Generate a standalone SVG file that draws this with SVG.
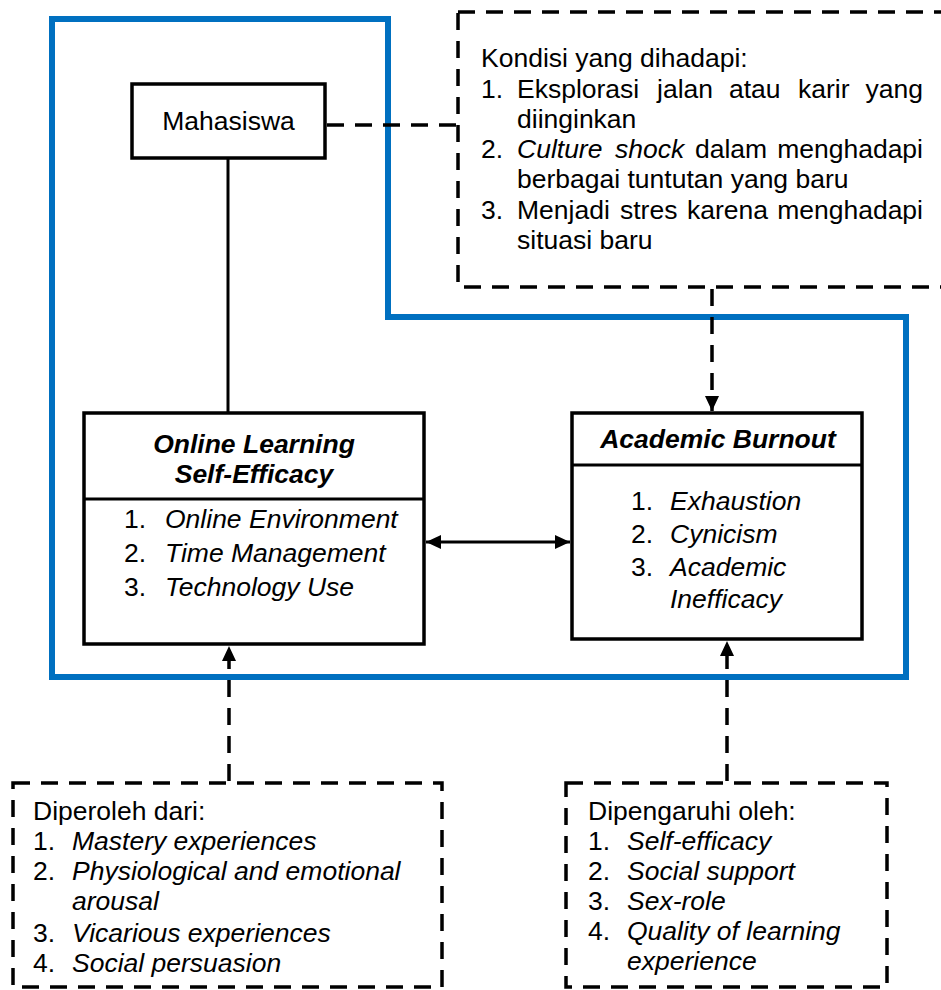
<svg xmlns="http://www.w3.org/2000/svg" width="941" height="990" viewBox="0 0 941 990">
<style>
text{font-family:"Liberation Sans",Arial,sans-serif;font-size:26.5px;fill:#000}
.it{font-style:italic}
.bi{font-style:italic;font-weight:bold}
.box{fill:#fff;stroke:#000;stroke-width:3.5}
.dbox{fill:none;stroke:#000;stroke-width:3.5;stroke-dasharray:17 11}
.solid{stroke:#000;stroke-width:3;fill:none}
.dash{stroke:#000;stroke-width:3.5;fill:none;stroke-dasharray:17 11}
</style>
<defs>
<marker id="ah" markerUnits="userSpaceOnUse" markerWidth="16" markerHeight="14" refX="15" refY="7" orient="auto-start-reverse">
<path d="M0,0 L15,7 L0,14 Z" fill="#000"/>
</marker>
</defs>
<g id="frame">
<path d="M52,19 H388 V317 H906 V677 H52 Z" fill="none" stroke="#0070C0" stroke-width="6"/>
</g>
<g id="connectors">
<line class="solid" x1="228" y1="158" x2="228" y2="412"/>
<line class="dash" x1="327" y1="125" x2="458" y2="125"/>
<line class="solid" x1="426" y1="542" x2="570" y2="542" marker-start="url(#ah)" marker-end="url(#ah)"/>
<line class="dash" x1="712" y1="289" x2="712" y2="411" marker-end="url(#ah)"/>
<line class="dash" x1="229" y1="781" x2="229" y2="646" marker-end="url(#ah)"/>
<line class="dash" x1="727" y1="781" x2="727" y2="641" marker-end="url(#ah)"/>
</g>
<g id="mahasiswa">
<rect class="box" x="132" y="84" width="193" height="74"/>
<text x="228.5" y="130" text-anchor="middle">Mahasiswa</text>
</g>
<g id="kondisi">
<rect class="dbox" x="458" y="12" width="490" height="275"/>
<text x="481" y="67">Kondisi yang dihadapi:</text>
<text x="481" y="98">1.</text>
<text y="98"><tspan x="517">Eksplorasi</tspan><tspan x="657">jalan</tspan><tspan x="729">atau</tspan><tspan x="798">karir</tspan><tspan x="923" text-anchor="end">yang</tspan></text>
<text x="517" y="128">diinginkan</text>
<text x="481" y="158">2.</text>
<text y="158"><tspan x="517" class="it">Culture</tspan><tspan x="615" class="it">shock</tspan><tspan x="695">dalam</tspan><tspan x="923" text-anchor="end">menghadapi</tspan></text>
<text x="517" y="188">berbagai tuntutan yang baru</text>
<text x="481" y="219">3.</text>
<text y="219"><tspan x="517">Menjadi</tspan><tspan x="620">stres</tspan><tspan x="687">karena</tspan><tspan x="923" text-anchor="end">menghadapi</tspan></text>
<text x="517" y="249">situasi baru</text>
</g>
<g id="olse">
<rect class="box" x="84" y="413" width="340" height="231"/>
<line class="solid" x1="84" y1="499" x2="424" y2="499" stroke-width="3.5"/>
<text class="bi" x="254" y="453" text-anchor="middle">Online Learning</text>
<text class="bi" x="254" y="483" text-anchor="middle">Self-Efficacy</text>
<text x="124" y="528">1.</text><text class="it" x="165" y="528">Online Environment</text>
<text x="124" y="562">2.</text><text class="it" x="165" y="562">Time Management</text>
<text x="124" y="596">3.</text><text class="it" x="165" y="596">Technology Use</text>
</g>
<g id="burnout">
<rect class="box" x="572" y="413" width="290" height="226"/>
<line class="solid" x1="572" y1="465" x2="862" y2="465" stroke-width="3.5"/>
<text class="bi" x="718" y="448" text-anchor="middle">Academic Burnout</text>
<text x="631" y="510">1.</text><text class="it" x="670" y="510">Exhaustion</text>
<text x="631" y="543">2.</text><text class="it" x="670" y="543">Cynicism</text>
<text x="631" y="576">3.</text><text class="it" x="670" y="576">Academic</text>
<text class="it" x="670" y="608">Inefficacy</text>
</g>
<g id="diperoleh">
<rect class="dbox" x="13" y="783" width="429" height="204"/>
<text x="33" y="820">Diperoleh dari:</text>
<text x="33" y="850">1.</text><text class="it" x="72" y="850">Mastery experiences</text>
<text x="33" y="880">2.</text><text class="it" x="72" y="880">Physiological and emotional</text>
<text class="it" x="72" y="910">arousal</text>
<text x="33" y="942">3.</text><text class="it" x="72" y="942">Vicarious experiences</text>
<text x="33" y="972">4.</text><text class="it" x="72" y="972">Social persuasion</text>
</g>
<g id="dipengaruhi">
<rect class="dbox" x="566" y="783" width="321" height="204"/>
<text x="588" y="820">Dipengaruhi oleh:</text>
<text x="588" y="850">1.</text><text class="it" x="627" y="850">Self-efficacy</text>
<text x="588" y="880">2.</text><text class="it" x="627" y="880">Social support</text>
<text x="588" y="910">3.</text><text class="it" x="627" y="910">Sex-role</text>
<text x="588" y="940">4.</text><text class="it" x="627" y="940">Quality of learning</text>
<text class="it" x="627" y="970">experience</text>
</g>
</svg>
